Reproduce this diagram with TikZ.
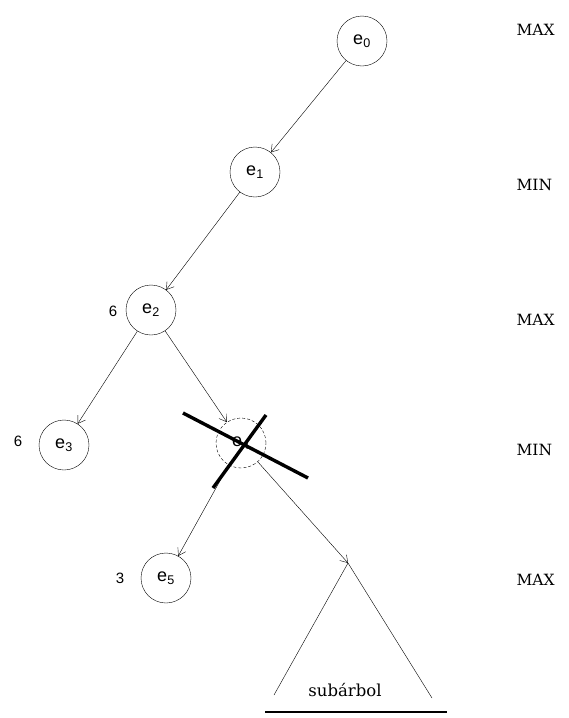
\documentclass[tikz,border=0pt]{standalone}
\usepackage{fontspec}
\setmainfont{DejaVu Serif}
\newfontfamily\etiqueta{Liberation Sans}
\usetikzlibrary{arrows.meta}
\tikzset{
  estado/.style={circle, draw, minimum size=50pt, inner sep=0pt, font=\etiqueta\fontsize{18}{20}\selectfont},
  rama/.style={-{Straight Barb[length=7pt,width=9pt]}, thin},
  nivel/.style={anchor=west, font=\fontsize{15.5}{18}\selectfont},
  valor/.style={font=\etiqueta\fontsize{15}{17}\selectfont},
  tachado/.style={line width=3.4pt},
}

\begin{document}
\begin{tikzpicture}[x=1pt, y=-1pt]
  \useasboundingbox (0,0) rectangle (568,718);

  % arbol
  \node[estado] (e0) at (362,41) {e\textsubscript{0}};
  \node[estado] (e1) at (255,172) {e\textsubscript{1}};
  \node[estado] (e2) at (151,310) {e\textsubscript{2}};
  \node[estado] (e3) at (64,445) {e\textsubscript{3}};
  \node[estado, dash pattern=on 3pt off 2pt] (e4) at (241,443) {e\textsubscript{4}};
  \node[estado] (e5) at (166,578) {e\textsubscript{5}};
  \coordinate (cima) at (348,563);
  \coordinate (izq) at (274,695);
  \coordinate (der) at (432,698);

  \draw[rama] (e0) -- (e1);
  \draw[rama] (e1) -- (e2);
  \draw[rama] (e2) -- (e3);
  \draw[rama] (e2) -- (e4);
  \draw[rama] (e4) -- (e5);
  \draw[rama] (e4) -- (cima);

  % subarbol podado
  \draw (cima) -- (izq);
  \draw (cima) -- (der);
  \node[font=\fontsize{16.5}{19}\selectfont] (sub) at (345,690) {subárbol};
  \draw[line width=1.4pt] (265,712) -- (447,712);

  % poda
  \draw[tachado] ([shift={(-58,-30)}]e4.center) -- ([shift={(67,35)}]e4.center);
  \draw[tachado] ([shift={(25,-28)}]e4.center) -- ([shift={(-28,45)}]e4.center);

  % valores
  \node[valor] at (113,311) {6};
  \node[valor] at (18,441) {6};
  \node[valor] at (120,578) {3};

  % niveles
  \node[nivel] at (513,30) {MAX};
  \node[nivel] at (513,185) {MIN};
  \node[nivel] at (513,320) {MAX};
  \node[nivel] at (513,450) {MIN};
  \node[nivel] at (513,580) {MAX};
\end{tikzpicture}
\end{document}
